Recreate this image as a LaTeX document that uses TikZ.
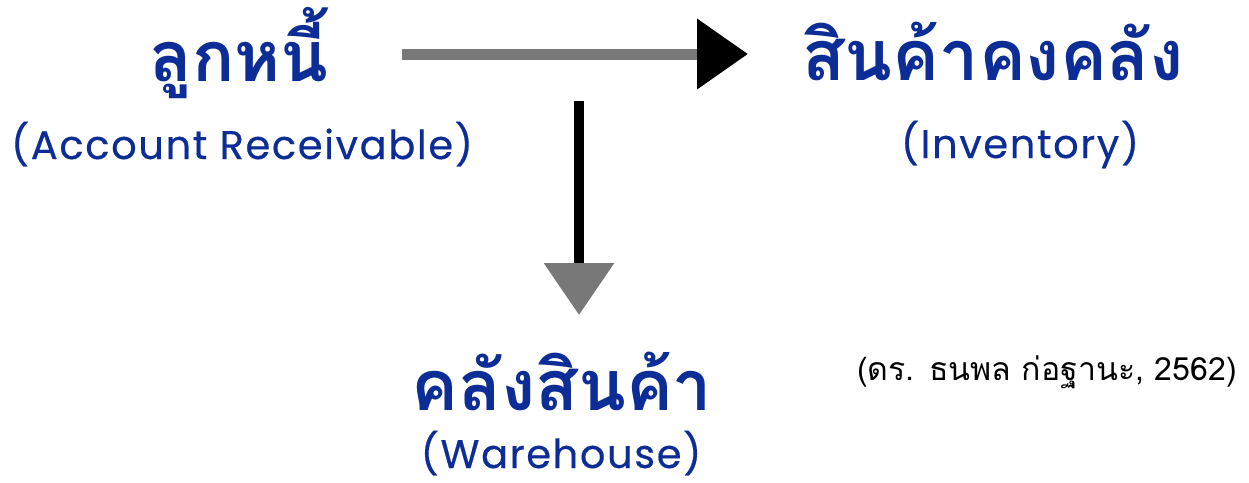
\documentclass[tikz,border=0pt]{standalone}
\usepackage{fontspec}
\setmainfont{Poppins}
\newfontfamily\enfont{Poppins}[LetterSpace=4,FakeBold=0.4]
\newfontfamily\thaifont[Script=Thai]{Loma}
\usetikzlibrary{arrows.meta}
\usetikzlibrary{positioning}
\definecolor{titleblue}{RGB}{12,44,150}
\definecolor{shaftgray}{RGB}{120,120,120}

\begin{document}
\begin{tikzpicture}[x=1pt,y=-1pt,thick]
\tikzstyle{th}=[anchor=base,inner sep=0pt,text=titleblue,font=\thaifont\bfseries\fontsize{70}{80}\selectfont]
\tikzstyle{en}=[anchor=base,inner sep=0pt,text=titleblue,font=\enfont\fontsize{40}{46}\selectfont]
\tikzstyle{cite}=[anchor=base,inner sep=0pt,font=\thaifont\fontsize{32}{38}\selectfont]
\tikzstyle{flowh}=[line width=11pt,shaftgray,-{Triangle[length=51pt,width=68pt,color=black]}]
\tikzstyle{flowv}=[line width=10pt,black,-{Triangle[length=52pt,width=68pt,color=shaftgray]}]
\useasboundingbox (0,0) rectangle (1249,482);
\node[th]	(AR)	at (239,81)		{ลูกหนี้};
\node[en]	(ARen)	at (242,159)	{(Account Receivable)};
\node[th]	(INV)	at (993,80)		{สินค้าคงคลัง};
\node[en]	(INVen)	at (1020,158)	{(Inventory)};
\node[th]	(WH)	at (562,410)	{คลังสินค้า};
\node[en]	(WHen)	at (561,468)	{(Warehouse)};
\node[cite]	(REF)	at (1047,380)	{(ดร. ธนพล ก่อฐานะ, 2562)};
\coordinate	(h0)	at (402,54);
\coordinate	(h1)	at (748,54);
\coordinate	(v0)	at (579,101);
\coordinate	(v1)	at (579,315);
\draw[flowh]	(h0) -- (h1);
\draw[flowv]	(v0) -- (v1);
\end{tikzpicture}
\end{document}
